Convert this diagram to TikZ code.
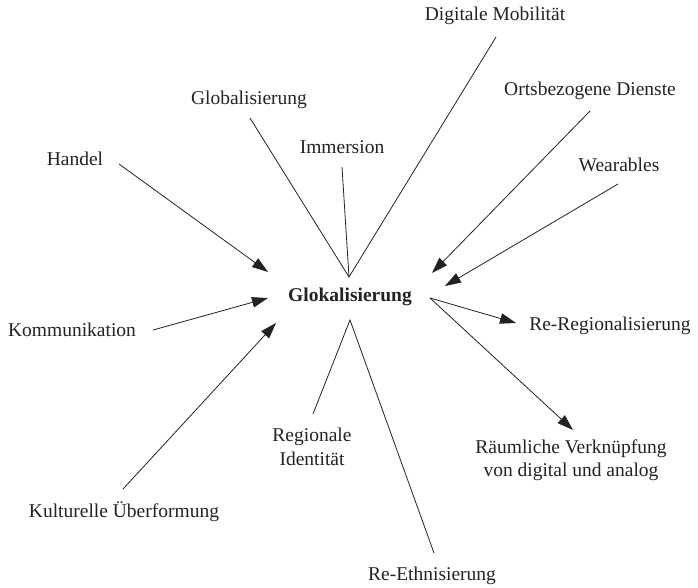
\documentclass[tikz,border=0pt]{standalone}
\usepackage{fontspec}
\setmainfont{Liberation Serif}
\usetikzlibrary{arrows.meta}
\definecolor{ink}{HTML}{222222}
\tikzset{
  term/.style={text=ink, inner sep=0pt, align=center,
    font=\fontsize{19.5}{23.5}\selectfont},
  hub/.style={term, font=\fontsize{19.5}{23.5}\selectfont\bfseries},
  link/.style={draw=ink, line width=0.8pt},
  flow/.style={link, -{Triangle[length=16pt,width=10.5pt]}}
}
\begin{document}
\begin{tikzpicture}[x=1pt,y=-1pt]
\useasboundingbox (0,0) rectangle (698,587);

% labels
\node[hub]  (glok) at (350,297) {Glokalisierung};
\node[term] (digi) at (495,16)  {Digitale Mobilität};
\node[term] (glob) at (249,100) {Globalisierung};
\node[term] (orts) at (590,91)  {Ortsbezogene Dienste};
\node[term] (hand) at (75,159)  {Handel};
\node[term] (imme) at (342,147) {Immersion};
\node[term] (wear) at (619,165) {Wearables};
\node[term] (komm) at (72,330)  {Kommunikation};
\node[term] (rreg) at (610,326) {Re-Regionalisierung};
\node[term] (regi) at (312,447) {Regionale\\Identität};
\node[term] (raum) at (571,460) {Räumliche Verknüpfung\\von digital und analog};
\node[term] (kult) at (124,512) {Kulturelle Überformung};
\node[term] (reth) at (432,576) {Re-Ethnisierung};

% attachment points around the hub
\coordinate (top)   at (349,277);
\coordinate (low)   at (350,320);
\coordinate (right) at (430,298);
\coordinate (hand-in) at (268,272);
\coordinate (komm-in) at (268,298);
\coordinate (kult-in) at (276,323);
\coordinate (orts-in) at (432,273);
\coordinate (wear-in) at (445,286);
\coordinate (rreg-in) at (516,323);
\coordinate (raum-in) at (573,430);

% attachment points at the labels
\coordinate (glob-e) at (250,118);
\coordinate (imme-e) at (342,167);
\coordinate (digi-e) at (496,37);
\coordinate (orts-e) at (590,111);
\coordinate (wear-e) at (618,184);
\coordinate (hand-e) at (119,164);
\coordinate (komm-e) at (153,330);
\coordinate (kult-e) at (123,489);
\coordinate (regi-e) at (313,414);
\coordinate (reth-e) at (434,553);

% plain lines meeting at the hub
\draw[link] (glob-e) -- (top) -- (digi-e);
\draw[link] (imme-e) -- (top);
\draw[link] (regi-e) -- (low) -- (reth-e);

% arrows into the hub
\draw[flow] (hand-e) -- (hand-in);
\draw[flow] (komm-e) -- (komm-in);
\draw[flow] (kult-e) -- (kult-in);
\draw[flow] (orts-e) -- (orts-in);
\draw[flow] (wear-e) -- (wear-in);

% arrows out of the hub
\draw[flow] (right) -- (rreg-in);
\draw[flow] (right) -- (raum-in);
\end{tikzpicture}
\end{document}
